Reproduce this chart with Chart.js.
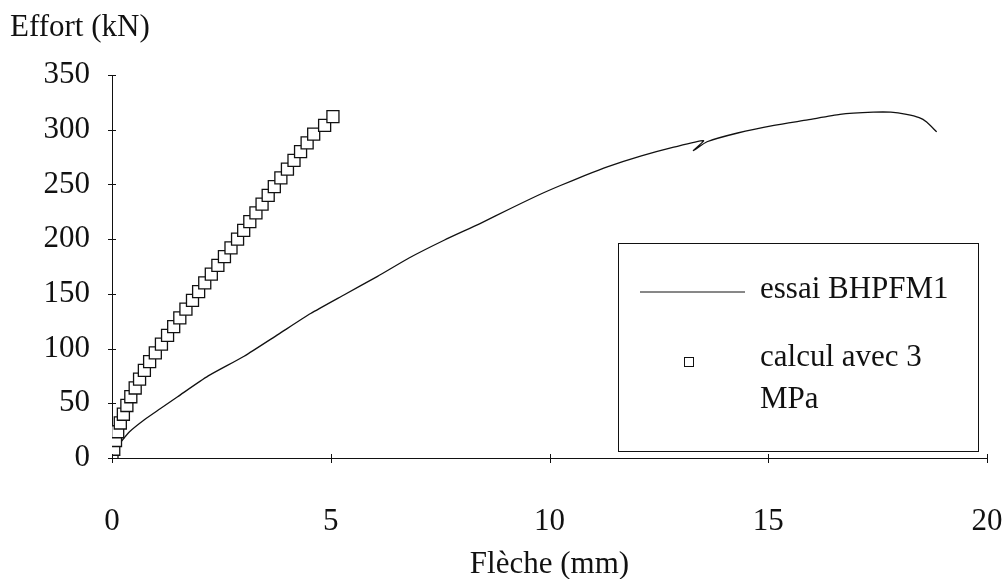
<!DOCTYPE html>
<html>
<head>
<meta charset="utf-8">
<script src="https://cdn.jsdelivr.net/npm/chart.js@4"></script>
<style>
  html, body { margin: 0; padding: 0; background: #fff; }
  #wrap { width: 1005px; height: 579px; position: relative; }
</style>
</head>
<body>
<div id="wrap"><canvas id="chart" width="1005" height="579"></canvas></div>
<script>
// Essai BHPFM1 (courbe mesurée)
const essaiX = [0.15, 0.4, 0.74, 1.1, 1.5, 2.2, 3.02, 3.8, 4.54, 5.3, 6.07, 6.8, 7.59, 8.4, 9.11, 9.79, 10.25, 10.8, 11.32, 12.1, 12.84, 13.52, 13.29, 13.6, 14.3, 15.13, 15.9, 16.64, 17.4, 17.8, 18.16, 18.45, 18.62, 18.85];
const essaiY = [12, 24, 35, 45, 56, 75, 93, 113, 132, 149, 166, 183, 199, 214, 228, 241, 249, 258, 266, 276, 284, 290, 281, 289, 297, 304, 309, 314, 316, 316, 314, 311, 307, 298];

// Calcul avec 3 MPa (marqueurs carrés)
const calculX = [0, 0.04, 0.08, 0.13, 0.19, 0.26, 0.34, 0.43, 0.53, 0.63, 0.74, 0.86, 0.99, 1.13, 1.27, 1.41, 1.55, 1.69, 1.84, 1.98, 2.12, 2.27, 2.42, 2.57, 2.72, 2.87, 3.01, 3.15, 3.29, 3.43, 3.57, 3.71, 3.86, 4.01, 4.16, 4.31, 4.46, 4.61, 4.86, 5.05];
const calculY = [0, 8, 16, 24, 32, 40, 48, 56, 64, 72, 80, 88, 96, 104, 112, 120, 128, 136, 144, 152, 160, 168, 176, 184, 192, 200, 208, 216, 224, 232, 240, 248, 256, 264, 272, 280, 288, 296, 304, 312];

const seriesLabels = ['essai BHPFM1', 'calcul avec 3 MPa'];
const xTicks = [0, 5, 10, 15, 20];
const yTicks = [0, 50, 100, 150, 200, 250, 300, 350];
const xTitle = 'Flèche (mm)';
const yTitle = 'Effort (kN)';

const FONT = 'Liberation Serif';
const INK = '#111';

function pts(xs, ys) {
  return xs.map((x, i) => ({ x: x, y: ys[i] }));
}

// legend box inside the plot, axis titles, small tick marks
const boxLegend = {
  id: 'boxLegend',
  afterDraw(chart) {
    const ctx = chart.ctx;
    const xs = chart.scales.x, ys = chart.scales.y;
    ctx.save();
    ctx.strokeStyle = INK;
    ctx.lineWidth = 1;
    ctx.strokeRect(618.5, 243.5, 360, 208);

    ctx.font = '31px "' + FONT + '"';
    ctx.fillStyle = INK;
    ctx.textBaseline = 'middle';
    ctx.textAlign = 'left';

    // line sample
    ctx.beginPath();
    ctx.moveTo(640, 292);
    ctx.lineTo(745, 292);
    ctx.stroke();
    ctx.fillText(seriesLabels[0], 760, 290);

    // square sample
    ctx.fillStyle = '#fff';
    ctx.fillRect(684, 357, 9, 9);
    ctx.strokeRect(684.5, 357.5, 9, 9);
    ctx.fillStyle = INK;

    // wrap second label
    const words = seriesLabels[1].split(' ');
    const lines = [];
    let cur = '';
    words.forEach(w => {
      const t = cur ? cur + ' ' + w : w;
      if (ctx.measureText(t).width > 200 && cur) { lines.push(cur); cur = w; }
      else cur = t;
    });
    lines.push(cur);
    lines.forEach((l, i) => ctx.fillText(l, 760, 358 + i * 42));

    // axis titles
    ctx.textBaseline = 'alphabetic';
    ctx.fillText(yTitle, 10, 36);
    ctx.textAlign = 'center';
    ctx.textBaseline = 'middle';
    ctx.fillText(xTitle, (xs.left + xs.right) / 2, 565);

    // small tick marks
    ctx.beginPath();
    yTicks.forEach(v => {
      const y = Math.round(ys.getPixelForValue(v)) + 0.5;
      ctx.moveTo(xs.left - 4, y);
      ctx.lineTo(xs.left + 4, y);
    });
    xTicks.forEach(v => {
      const x = Math.round(xs.getPixelForValue(v)) + 0.5;
      ctx.moveTo(x, ys.bottom + 5);
      ctx.lineTo(x, ys.bottom - 4);
    });
    ctx.stroke();
    ctx.restore();
  }
};

new Chart(document.getElementById('chart'), {
  type: 'scatter',
  data: {
    datasets: [
      {
        label: seriesLabels[0],
        data: pts(essaiX, essaiY),
        showLine: true,
        borderColor: INK,
        borderWidth: 1.3,
        pointRadius: 0,
        tension: 0.2,
        order: 2
      },
      {
        label: seriesLabels[1],
        data: pts(calculX, calculY),
        showLine: false,
        pointStyle: 'rect',
        pointRadius: 8.5,
        pointBorderWidth: 1.3,
        pointBorderColor: INK,
        pointBackgroundColor: '#fff',
        order: 1
      }
    ]
  },
  options: {
    responsive: false,
    animation: false,
    layout: { padding: { top: 75, right: 18, left: 0, bottom: 0 } },
    plugins: {
      legend: { display: false },
      tooltip: { enabled: false }
    },
    scales: {
      x: {
        type: 'linear',
        min: 0,
        max: 20,
        afterBuildTicks(scale) { scale.ticks = xTicks.map(v => ({ value: v })); },
        afterFit(scale) { scale.height = 121; },
        border: { display: true, color: INK, width: 1 },
        grid: { drawOnChartArea: false, drawTicks: true, tickLength: 45, tickColor: 'rgba(0,0,0,0)' },
        ticks: { color: INK, padding: 0, maxRotation: 0, font: { family: FONT, size: 31 } }
      },
      y: {
        type: 'linear',
        min: 0,
        max: 350,
        afterBuildTicks(scale) { scale.ticks = yTicks.map(v => ({ value: v })); },
        afterFit(scale) { scale.width = 112; },
        border: { display: true, color: INK, width: 1 },
        grid: { drawOnChartArea: false, drawTicks: true, tickLength: 22, tickColor: 'rgba(0,0,0,0)' },
        ticks: { color: INK, padding: 0, font: { family: FONT, size: 31 } }
      }
    }
  },
  plugins: [boxLegend]
});
</script>
</body>
</html>
